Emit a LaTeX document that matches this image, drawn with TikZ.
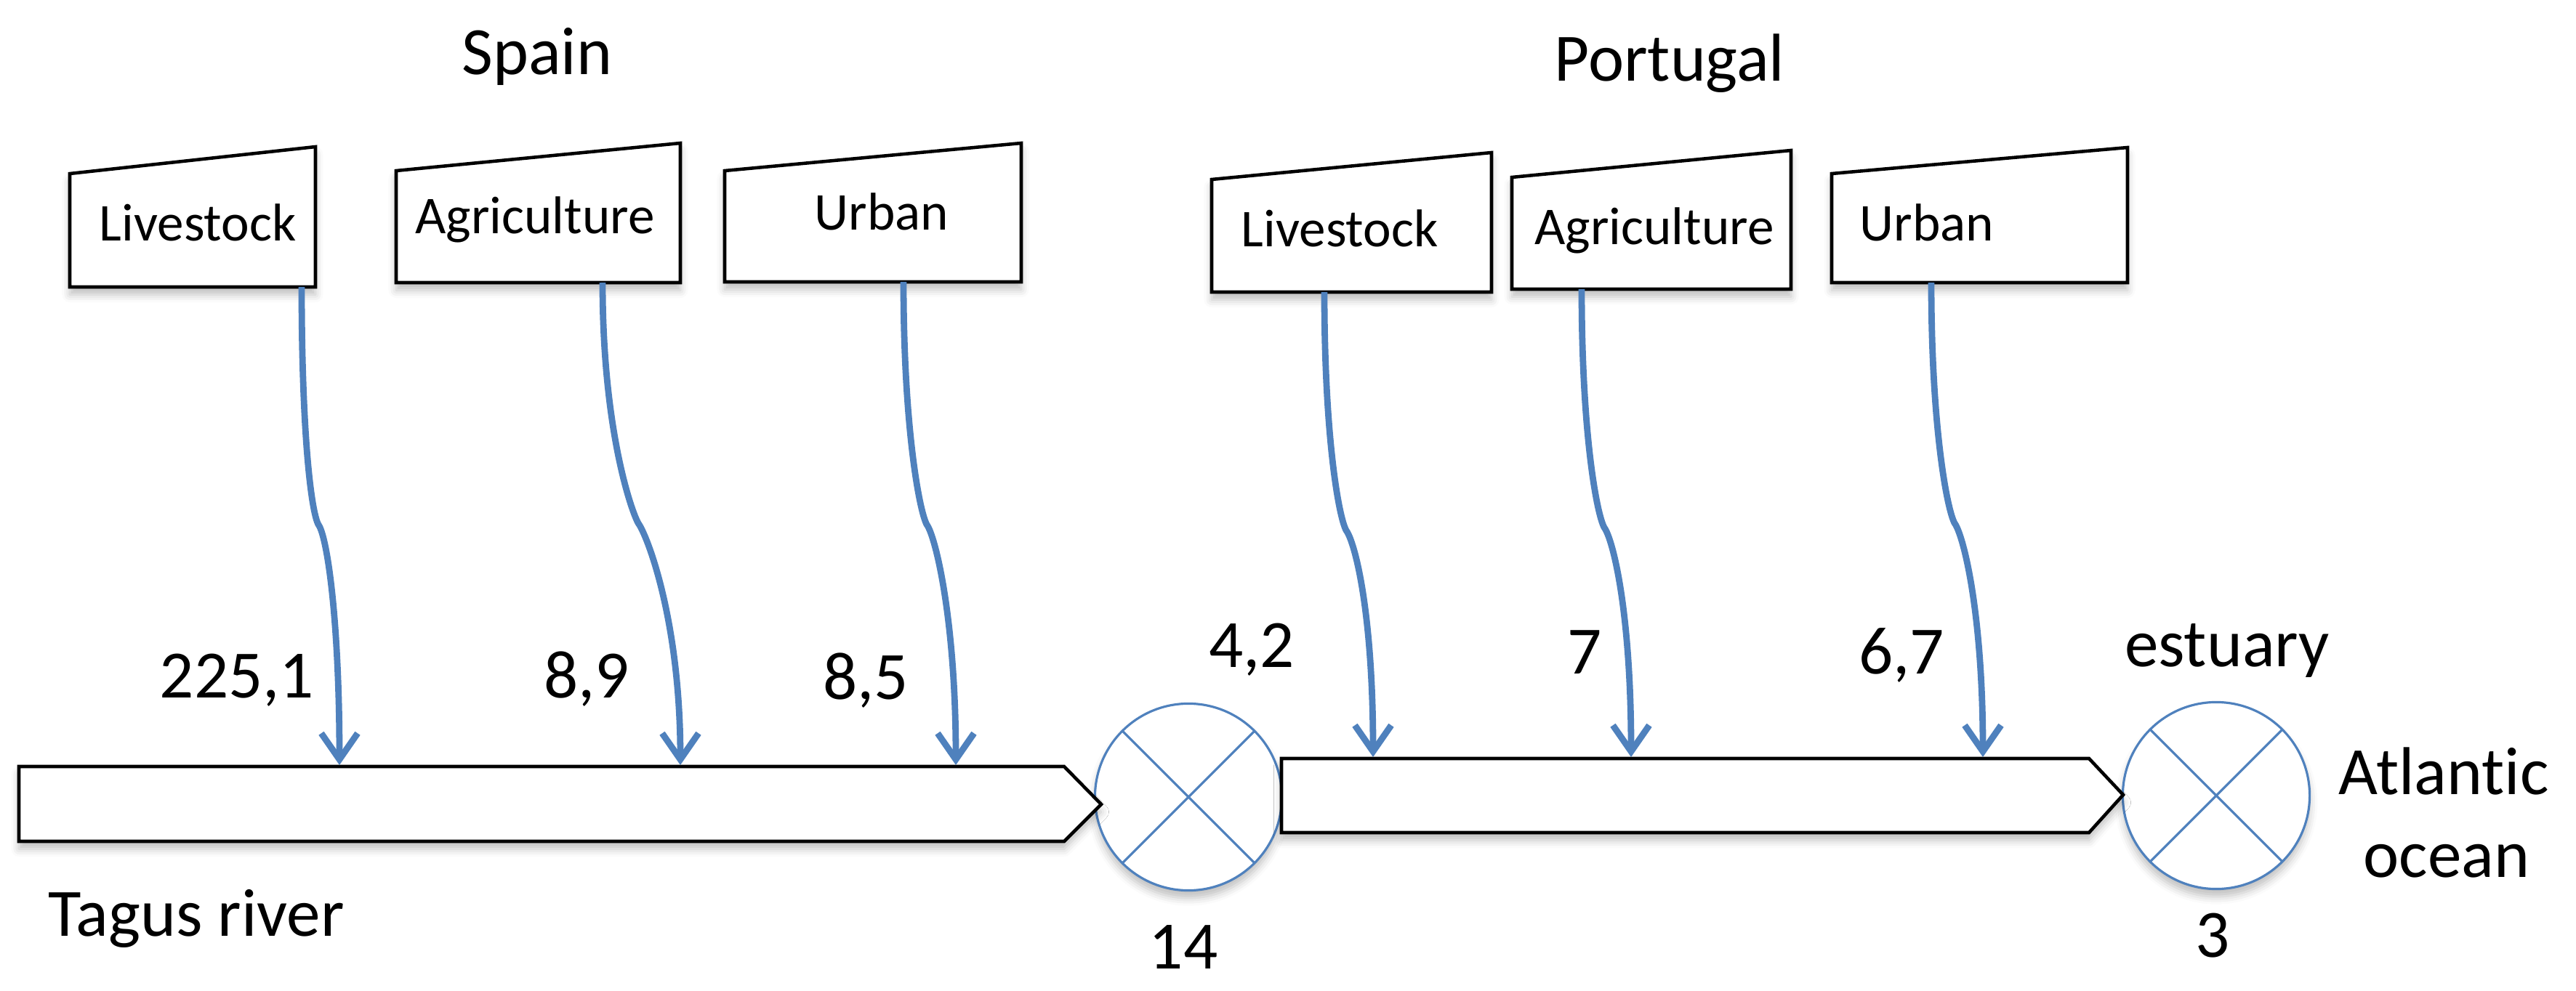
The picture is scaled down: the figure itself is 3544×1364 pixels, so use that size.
\documentclass[tikz,border=0pt]{standalone}
\usepackage{fontspec}
\setmainfont{Carlito}[Ligatures=CommonOff]
\usetikzlibrary{arrows.meta,shadows.blur}
\definecolor{flowblue}{RGB}{79,129,189}
\newcommand\bigtxt{\fontsize{26.5pt}{31pt}\selectfont}
\newcommand\boxtxt{\fontsize{20.8pt}{25pt}\selectfont}
\tikzset{
  softshadow/.style={blur shadow={shadow xshift=0pt, shadow yshift=-3pt, shadow blur radius=3pt, shadow opacity=25}},
  boxline/.style={draw=black, line width=1.3pt, fill=white, line join=miter, softshadow},
  riverline/.style={draw=black, line width=1.3pt, fill=white, line join=miter, softshadow},
  junction/.style={circle, draw=flowblue, line width=0.9pt, fill=white, minimum size=2.57cm, inner sep=0pt, outer sep=0pt, softshadow},
  crossline/.style={draw=flowblue, line width=0.9pt},
  flow/.style={draw=flowblue, line width=2.5pt, -{Straight Barb[length=0.36cm, width=0.5cm]}},
  big/.style={font=\bigtxt, inner sep=0pt, anchor=base},
  lbl/.style={font=\boxtxt, inner sep=0pt, anchor=base},
}
% name, left, right, top-right y, bottom y, top-left y
\newcommand\srcbox[6]{%
  \path[boxline] (#2,#5) -- (#3,#5) -- (#3,#4) -- (#2,#6) -- cycle;}
% name, x0, y0, xm, ym, x1, y1
\newcommand\flowarrow[7]{%
  \coordinate (#1-a) at (#2,#3);
  \coordinate (#1-m) at (#4,#5);
  \coordinate (#1-b) at (#6,#7);
  \draw[flow] (#1-a) .. controls +(0,200) and +(-10,-18) .. (#1-m)
              .. controls +(12,16) and +(0,-200) .. (#1-b);}
\begin{document}
\begin{tikzpicture}[x=0.01cm, y=-0.01cm]
\useasboundingbox (0,0) rectangle (3544,1364);

% titles
\node[big] (spain) at (739,103) {Spain};
\node[big] (portugal) at (2297,112) {Portugal};

% source boxes
\srcbox{esL}{96}{434}{202}{395}{239}
\srcbox{esA}{545}{936}{197}{389}{235}
\srcbox{esU}{997}{1405}{197}{388}{235}
\srcbox{ptL}{1667}{2052}{210}{402}{247}
\srcbox{ptA}{2080}{2464}{207}{398}{244}
\srcbox{ptU}{2520}{2927}{203}{389}{239}

\node[lbl] (esLt) at (272,332) {Livestock};
\node[lbl] (esAt) at (736,322) {Agriculture};
\node[lbl] (esUt) at (1213,317) {Urban};
\node[lbl] (ptLt) at (1843,340) {Livestock};
\node[lbl] (ptAt) at (2276,337) {Agriculture};
\node[lbl] (ptUt) at (2651,332) {Urban};

% junctions
\node[junction] (j1) at (1635,1097) {};
\draw[crossline] (j1.north west) -- (j1.south east) (j1.north east) -- (j1.south west);
\node[junction] (j2) at (3049,1095) {};
\draw[crossline] (j2.north west) -- (j2.south east) (j2.north east) -- (j2.south west);

% river reaches
\path[riverline] (26,1055) -- (1464,1055) -- (1515,1107) -- (1464,1158) -- (26,1158) -- cycle;
\path[riverline] (1763,1044) -- (2874,1044) -- (2921,1094) -- (2874,1146) -- (1763,1146) -- cycle;

% flows
\flowarrow{fa}{415}{395}{438}{722}{467}{1053}
\flowarrow{fb}{829}{389}{878}{720}{936}{1053}
\flowarrow{fc}{1243}{388}{1275}{722}{1315}{1053}
\flowarrow{fd}{1822}{402}{1852}{730}{1889}{1042}
\flowarrow{fe}{2176}{398}{2207}{726}{2244}{1042}
\flowarrow{ff}{2657}{389}{2689}{720}{2728}{1042}

% values
\node[big] (v1) at (326,960) {225,1};
\node[big] (v2) at (807,960) {8,9};
\node[big] (v3) at (1191,962) {8,5};
\node[big] (v4) at (1722,918) {4,2};
\node[big] (v5) at (2180,927) {7};
\node[big] (v6) at (2616,927) {6,7};

\node[big] (estuary) at (3064,917) {estuary};
\node[big] (atl) at (3362,1093) {Atlantic};
\node[big] (ocean) at (3366,1207) {ocean};
\node[big] (n14) at (1628,1333) {14};
\node[big] (n3) at (3044,1317) {3};
\node[big, anchor=base west] (tagus) at (66,1288) {Tagus river};
\end{tikzpicture}
\end{document}
